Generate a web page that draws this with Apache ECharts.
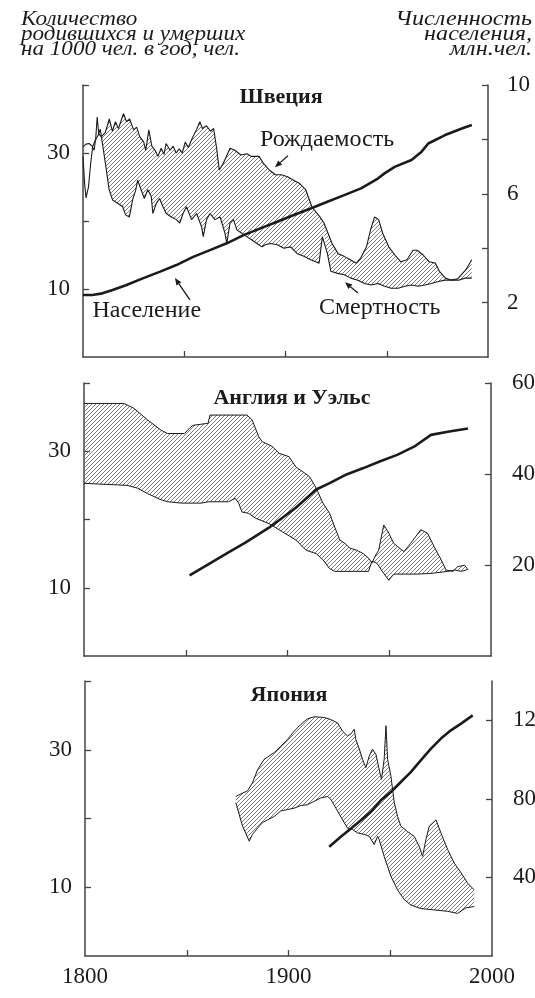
<!DOCTYPE html>
<html>
<head>
<meta charset="utf-8">
<script src="https://cdn.jsdelivr.net/npm/echarts@6/dist/echarts.min.js"></script>
<style>
  html, body { margin: 0; padding: 0; background: #fff; }
  #chart { width: 535px; height: 998px; }
</style>
</head>
<body>
<div id="chart"></div>
<script>
// Birth and death rates (per 1000 per year) and population, as [year, value]
const swedenBirth = [
  [1800,30.9],[1801.5,31.3],[1803,31.4],[1804.5,31.0],[1805.5,30.4],[1806.3,32.2],[1807,35.3],[1807.8,32.8],
  [1809,32.4],[1811,33.0],[1813,35.0],[1814.5,33.2],[1816,34.6],[1817.5,33.6],[1820,35.8],[1821.5,34.6],
  [1823,35.0],[1825,33.4],[1826.5,33.8],[1828,32.4],[1830,31.6],[1831,30.4],[1832.5,33.4],[1834,31.0],
  [1836,30.2],[1837,29.5],[1838.6,30.7],[1840,29.8],[1841,31.4],[1843,30.4],[1844.5,31.0],[1846,30.0],
  [1847.5,30.6],[1849,30.0],[1850.5,31.6],[1852,30.8],[1854,32.2],[1856,33.4],[1857.7,34.6],[1859,33.6],
  [1861,34.0],[1863,33.2],[1864.5,33.6],[1866,30.7],[1867.3,27.5],[1869.3,28.5],[1872.6,30.7],[1875,30.4],
  [1878,29.7],[1881,29.9],[1883,29.5],[1887,29.5],[1889,28.5],[1892,27.5],[1895,26.8],[1898,26.8],
  [1901,26.5],[1904,26.0],[1907,25.5],[1910,24.6],[1913,22.1],[1917,20.6],[1919,19.7],[1921,18.2],
  [1923,16.7],[1926,15.2],[1929,14.8],[1932,14.3],[1935,13.8],[1937,14.5],[1940,16.2],[1942,18.7],
  [1944,20.6],[1946,20.2],[1948,18.2],[1951,16.2],[1954,15.0],[1957,14.0],[1960,14.3],[1963,15.7],
  [1965,15.7],[1968,15.0],[1971,14.0],[1974,13.8],[1976,12.6],[1979,11.6],[1982,11.3],[1985,11.5],
  [1989,12.8],[1992,14.3]
];
const swedenDeath = [
  [1800,29.5],[1800.8,25.5],[1801.5,23.4],[1802.7,25.0],[1803.8,28.5],[1804.8,31.0],[1806,31.8],[1807.5,32.6],
  [1808.5,33.5],[1809.6,31.4],[1811.3,28.0],[1812.9,24.6],[1814.6,23.1],[1817.1,22.6],[1819.6,22.1],[1821,20.9],
  [1822.9,20.6],[1824.5,23.1],[1826,24.5],[1827,26.0],[1828.7,24.6],[1830.3,23.3],[1832,24.6],[1833.7,23.6],
  [1834.5,21.1],[1836.2,22.6],[1837.8,23.3],[1839.5,22.1],[1841.1,21.1],[1843.6,20.6],[1846.1,20.2],[1847.8,19.7],
  [1849.4,21.1],[1851.1,22.1],[1853.6,20.2],[1856.1,21.1],[1858.5,19.2],[1859.4,17.7],[1861,20.2],[1862.7,21.1],
  [1865.2,20.2],[1867.7,20.6],[1870.1,18.2],[1871,16.7],[1872.6,19.7],[1874.3,20.2],[1876,18.7],[1878.4,18.2],
  [1880.9,17.7],[1883.4,17.2],[1885.9,16.7],[1888.4,16.2],[1890,16.5],[1892.5,16.7],[1895.9,16.5],[1899.2,16.0],
  [1902.5,16.2],[1905.8,15.2],[1909.1,14.8],[1912.4,14.3],[1914.9,14.0],[1916.6,13.8],[1918.2,17.7],[1919.1,17.9],
  [1920.7,15.2],[1922.4,12.6],[1925.7,12.3],[1929,12.1],[1932.3,11.6],[1935.7,11.3],[1939,10.8],[1942.3,10.6],
  [1945.6,10.8],[1948.9,10.4],[1952.2,10.1],[1955.6,10.1],[1958.9,10.4],[1962.2,10.6],[1965.5,10.4],[1968.8,10.6],
  [1972.1,10.8],[1975.5,11.1],[1978.8,11.3],[1982.1,11.3],[1985.4,11.3],[1988.7,11.6],[1992,11.6]
];
const swedenPopulation = [
  [1800,2.28],[1804.6,2.28],[1809.6,2.34],[1814.6,2.46],[1821.2,2.64],[1829.5,2.89],[1837.8,3.13],[1846.1,3.38],
  [1854.4,3.68],[1862.7,3.93],[1871,4.18],[1879.3,4.48],[1887.6,4.73],[1895.9,4.97],[1904.1,5.22],[1912.4,5.46],
  [1920.7,5.71],[1929,5.95],[1937.3,6.20],[1945.6,6.56],[1948.9,6.75],[1953.9,6.99],[1962.2,7.24],[1967.2,7.55],
  [1970.5,7.85],[1978.8,8.16],[1987.1,8.40],[1992,8.53]
];
const swedenHatchFrom = 1809;

const englandBirth = [
  [1800,37.0],[1819.6,37.0],[1824.5,36.3],[1831.2,34.6],[1837.8,33.1],[1841.1,32.6],[1849.4,32.6],[1851.9,33.4],
  [1853.6,33.8],[1861,34.1],[1861.9,35.3],[1880.1,35.3],[1882.6,34.6],[1885.9,32.1],[1887.6,31.4],[1892.5,30.7],
  [1895.9,29.7],[1900.8,29.2],[1904.1,27.7],[1907.5,27.0],[1910.8,26.3],[1914.1,24.6],[1917.4,22.4],[1920.7,20.9],
  [1923.2,18.9],[1925.7,17.0],[1928.2,16.5],[1930.7,15.8],[1934,15.5],[1937.3,15.0],[1940,14.3],[1941.5,13.6],
  [1943,14.6],[1944.8,15.5],[1947.3,19.2],[1949.8,18.0],[1952.2,16.5],[1957.2,15.3],[1960.5,16.5],[1965.5,18.5],
  [1968.8,18.0],[1972.1,16.0],[1975.5,14.1],[1977.9,12.6],[1981.3,12.4],[1983.7,13.1],[1987.1,13.3],[1988.7,12.6]
];
const englandDeath = [
  [1800,25.3],[1821.2,25.0],[1826.2,24.6],[1831.2,23.8],[1837.8,22.9],[1841.1,22.6],[1847.8,22.4],[1857.7,22.4],
  [1861,22.6],[1871,22.6],[1874.3,23.1],[1876,22.4],[1877.6,21.1],[1880.9,20.9],[1884.2,20.2],[1890.9,19.4],
  [1897.5,18.2],[1904.1,17.0],[1909.1,15.5],[1914.1,15.0],[1917.4,14.1],[1920.7,12.8],[1923.2,12.4],[1932.3,12.4],
  [1939.8,12.4],[1941.5,13.9],[1943.9,13.6],[1947.3,12.1],[1949.8,11.1],[1952.2,12.0],[1963.8,12.0],[1970.5,12.1],
  [1978.8,12.4],[1982.1,12.6],[1985.4,12.4],[1987.9,12.6]
];
const englandPopulation = [
  [1851.9,17.7],[1862.7,20.6],[1871,22.8],[1879.3,24.9],[1890.9,28.2],[1904.1,32.6],[1914.1,36.6],[1920.7,38.0],
  [1929,39.9],[1937.3,41.3],[1945.6,42.8],[1953.9,44.2],[1962.2,46.0],[1970.5,48.6],[1978.8,49.3],[1988.7,50.0]
];

const japanBirth = [
  [1874.1,23.2],[1877.4,23.7],[1879.8,24.0],[1882.3,25.2],[1884.8,27.1],[1888,28.6],[1890.5,29.1],[1893,29.6],
  [1896.2,30.5],[1899.5,31.5],[1902.8,32.7],[1906.1,33.7],[1909.3,34.5],[1912.6,34.8],[1917.5,34.7],[1920.8,34.4],
  [1924.1,33.9],[1926.6,32.7],[1929,32.0],[1930.7,32.3],[1932.3,33.0],[1933.1,31.5],[1934.8,30.1],[1936.4,28.6],
  [1938,27.4],[1939.7,29.1],[1941.3,30.1],[1943,29.3],[1944.6,27.1],[1945.7,25.7],[1947,28.6],[1947.9,33.5],
  [1948.7,28.6],[1950.3,26.2],[1952,22.3],[1953.6,20.3],[1955.2,18.9],[1958.5,18.1],[1961.8,17.4],[1964.3,15.9],
  [1965.9,14.5],[1967.5,16.9],[1969.2,18.9],[1972.5,19.8],[1974.9,17.9],[1978.2,15.5],[1981.5,13.5],[1984.8,12.1],
  [1988,10.6],[1991.3,9.6]
];
const japanDeath = [
  [1874.1,22.3],[1877.4,18.9],[1880.7,16.7],[1882.3,17.7],[1884.8,18.6],[1887.2,19.4],[1889.7,19.8],[1893,20.3],
  [1896.2,21.1],[1899.5,21.3],[1902.8,21.5],[1906.1,21.9],[1909.3,22.0],[1912.6,22.5],[1915.9,23.0],[1919.2,23.2],
  [1920.8,22.8],[1923.3,21.5],[1926.6,19.8],[1929,18.6],[1931.5,18.4],[1933.9,17.9],[1937.2,17.7],[1939.7,17.4],
  [1942.1,16.2],[1943.8,17.4],[1944.6,16.9],[1947,14.5],[1950.3,11.6],[1953.6,9.6],[1956.9,8.2],[1960.2,7.4],
  [1965.1,6.9],[1971.6,6.7],[1978.2,6.5],[1983.1,6.2],[1987.2,7.0],[1991.3,7.2]
];
const japanPopulation = [
  [1920,55.6],[1925.7,60.7],[1930.7,64.9],[1935.6,69.1],[1940.5,73.4],[1945.4,79.3],[1950.3,83.5],[1955.2,88.6],
  [1960.2,93.7],[1965.1,99.7],[1970,105.6],[1974.9,110.7],[1979.8,114.9],[1984.8,118.3],[1990.5,122.5]
];

// Axis ticks and labels
const yearTicks = [1850, 1900, 1950];
const yearLabels = [1800, 1900, 2000];
const rateTicks = [10, 20, 30, 40];
const rateLabels = [10, 30];
const popTicks = [[2, 4, 6, 8, 10], [20, 40, 60], [40, 80, 120]];
const popLabels = [[2, 6, 10], [20, 40, 60], [40, 80, 120]];
const popMax = [10, 60, 140];

const panelTitles = ['Швеция', 'Англия и Уэльс', 'Япония'];
const leftHeader = ['Количество', 'родившихся и умерших', 'на 1000 чел. в год, чел.'];
const rightHeader = ['Численность', 'населения,', 'млн.чел.'];

// Panel layout (pixels); labels may run past the page edge
const grids = [
  { left: 83, top: 85, width: 405, height: 272, outerBoundsMode: 'none' },
  { left: 84, top: 383, width: 407, height: 273, outerBoundsMode: 'none' },
  { left: 85, top: 681, width: 407, height: 275, outerBoundsMode: 'none' }
];
const rightLabelMargin = [19, 21, 21];
const titlePos = [[281, 97], [292, 398], [289, 695]];

const SERIF = '"Liberation Serif", "DejaVu Serif", serif';
const INK = '#1b1b1b';
const AXIS = '#444';
const TICK_FONT = 23;

// Diagonal hatch tile
function makeHatch() {
  const s = 4;
  const c = document.createElement('canvas');
  c.width = s; c.height = s;
  const g = c.getContext('2d');
  g.strokeStyle = '#666';
  g.lineWidth = 0.85;
  g.beginPath();
  g.moveTo(0, s); g.lineTo(s, 0);
  g.moveTo(-1, 1); g.lineTo(1, -1);
  g.moveTo(s - 1, s + 1); g.lineTo(s + 1, s - 1);
  g.stroke();
  return c;
}
const hatch = makeHatch();

function band(idx, upper, lower) {
  return {
    type: 'custom',
    xAxisIndex: idx,
    yAxisIndex: idx * 2,
    data: [[1900, 20]],
    clip: false,
    silent: true,
    z: 1,
    renderItem: function (params, api) {
      const pts = upper.map(p => api.coord(p))
        .concat(lower.slice().reverse().map(p => api.coord(p)));
      return {
        type: 'polygon',
        shape: { points: pts },
        style: { fill: { image: hatch, repeat: 'repeat' }, stroke: null }
      };
    }
  };
}

function line(idx, yIdx, data, width) {
  return {
    type: 'line',
    xAxisIndex: idx,
    yAxisIndex: yIdx,
    data: data,
    symbol: 'none',
    silent: true,
    z: 3,
    lineStyle: { color: INK, width: width }
  };
}

const plain = v => String(v);

const xAxes = grids.map((g, i) => ({
  type: 'value', gridIndex: i, min: 1800, max: 2000,
  axisLine: { show: true, onZero: false, lineStyle: { color: AXIS, width: 1.5 } },
  axisTick: { show: true, inside: true, length: 6, customValues: yearTicks, lineStyle: { color: AXIS, width: 1.3 } },
  axisLabel: {
    show: i === 2, customValues: yearLabels, margin: 9, formatter: plain,
    fontFamily: SERIF, fontSize: TICK_FONT, color: INK
  },
  splitLine: { show: false }
}));

const yAxes = [];
grids.forEach((g, i) => {
  yAxes.push({
    type: 'value', gridIndex: i, position: 'left', min: 0, max: 40,
    axisLine: { show: true, lineStyle: { color: AXIS, width: 1.5 } },
    axisTick: { show: true, inside: true, length: 6, customValues: rateTicks, lineStyle: { color: AXIS, width: 1.3 } },
    axisLabel: {
      customValues: rateLabels, margin: 13, formatter: plain,
      padding: i === 0 ? [12, 0, 0, 0] : 0,
      fontFamily: SERIF, fontSize: TICK_FONT, color: INK
    },
    splitLine: { show: false }
  });
  yAxes.push({
    type: 'value', gridIndex: i, position: 'right', min: 0, max: popMax[i],
    axisLine: { show: true, lineStyle: { color: AXIS, width: 1.5 } },
    axisTick: { show: true, inside: true, length: 6, customValues: popTicks[i], lineStyle: { color: AXIS, width: 1.3 } },
    axisLabel: {
      customValues: popLabels[i], margin: rightLabelMargin[i], formatter: plain,
      fontFamily: SERIF, fontSize: TICK_FONT, color: INK
    },
    splitLine: { show: false }
  });
});

const fromYear = (arr, y0) => arr.filter(p => p[0] >= y0);

const series = [
  band(0, fromYear(swedenBirth, swedenHatchFrom), fromYear(swedenDeath, swedenHatchFrom)),
  line(0, 0, swedenBirth, 1.1),
  line(0, 0, swedenDeath, 1.1),
  line(0, 1, swedenPopulation, 2.6),
  band(1, englandBirth, englandDeath),
  line(1, 2, englandBirth, 1.0),
  line(1, 2, englandDeath, 1.0),
  line(1, 3, englandPopulation, 2.6),
  band(2, japanBirth, japanDeath),
  line(2, 4, japanBirth, 1.0),
  line(2, 4, japanDeath, 1.0),
  line(2, 5, japanPopulation, 2.6)
];

// Header blocks: slightly widened italic serif, anchored at their outer edges
const HEAD_FONT = 'italic 22px ' + SERIF;
const graphics = [];
leftHeader.forEach((t, k) => graphics.push({
  type: 'text', x: 21, y: 8 + k * 15, scaleX: 1.05, z: 10,
  style: { text: t, font: HEAD_FONT, fill: INK, align: 'left', verticalAlign: 'top' }
}));
rightHeader.forEach((t, k) => graphics.push({
  type: 'text', x: 532, y: 8 + k * 15, scaleX: 1.1, z: 10,
  style: { text: t, font: HEAD_FONT, fill: INK, align: 'right', verticalAlign: 'top' }
}));
panelTitles.forEach((t, i) => graphics.push({
  type: 'text', x: titlePos[i][0], y: titlePos[i][1], z: 10,
  style: { text: t, font: 'bold 22px ' + SERIF, fill: INK, align: 'center', verticalAlign: 'middle' }
}));

const chart = echarts.init(document.getElementById('chart'), null, { renderer: 'canvas' });
chart.setOption({
  animation: false,
  backgroundColor: '#fff',
  grid: grids,
  xAxis: xAxes,
  yAxis: yAxes,
  series: series,
  graphic: graphics
});

// Curve annotations in Sweden panel (data coordinates on the rate axis)
const notes = [
  { text: 'Рождаемость', at: [1920.5, 32.0], tail: [1901.2, 29.6], tip: [1894.8, 27.9] },
  { text: 'Население', at: [1831.5, 6.8], tail: [1852.8, 8.4], tip: [1845.4, 11.6] },
  { text: 'Смертность', at: [1946.5, 7.3], tail: [1935.8, 9.4], tip: [1929.4, 11.0] }
];
const finder = { xAxisIndex: 0, yAxisIndex: 0 };
const extra = [];
notes.forEach(n => {
  const c = chart.convertToPixel(finder, n.at);
  const a = chart.convertToPixel(finder, n.tail);
  const b = chart.convertToPixel(finder, n.tip);
  extra.push({
    type: 'text', x: c[0], y: c[1], z: 10,
    style: { text: n.text, font: '24px ' + SERIF, fill: INK, align: 'center', verticalAlign: 'middle' }
  });
  const dx = b[0] - a[0], dy = b[1] - a[1];
  const len = Math.hypot(dx, dy), ux = dx / len, uy = dy / len;
  const hl = 7, hw = 3;
  const base = [b[0] - ux * hl, b[1] - uy * hl];
  extra.push({
    type: 'line', z: 10,
    shape: { x1: a[0], y1: a[1], x2: base[0], y2: base[1] },
    style: { stroke: INK, lineWidth: 1.3 }
  });
  extra.push({
    type: 'polygon', z: 10,
    shape: { points: [b, [base[0] - uy * hw, base[1] + ux * hw], [base[0] + uy * hw, base[1] - ux * hw]] },
    style: { fill: INK }
  });
});
chart.setOption({ graphic: graphics.concat(extra) });
</script>
</body>
</html>
